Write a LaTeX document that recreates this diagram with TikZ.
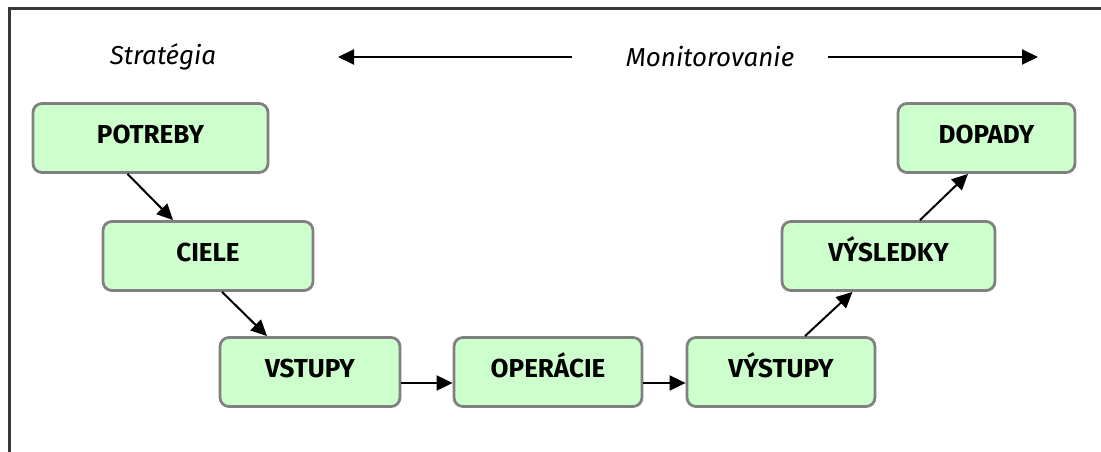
\documentclass[tikz,border=0pt]{standalone}
\usepackage{fontspec}
\setmainfont{Fira Sans}
\usetikzlibrary{arrows.meta}
\definecolor{boxfill}{HTML}{CCFFCC}
\definecolor{boxline}{HTML}{808080}
\definecolor{framecol}{HTML}{383838}
\tikzset{
  krok/.style={draw=boxline, fill=boxfill, line width=2.8pt, rounded corners=9pt,
    minimum height=69pt, text height=19pt, text depth=8pt,
    font=\fontsize{26}{30}\selectfont\bfseries},
  sipka/.style={-{Triangle[length=16pt,width=15pt]}, line width=2pt},
  popis/.style={font=\fontsize{26}{30}\selectfont\itshape}
}
\begin{document}
\begin{tikzpicture}[x=1pt, y=-1pt]
        \useasboundingbox (0,0) rectangle (1101,452);
        % ram
        \draw[framecol, line width=3pt] (9,452) -- (9,9) -- (1101,9);

        % horny riadok
        \node[popis] (strat) at (163,57) {Stratégia};
        \node[popis] (monit) at (710,57) {Monitorovanie};
        \coordinate (lz) at (572,57);
        \coordinate (lk) at (338,57);
        \coordinate (pz) at (828,57);
        \coordinate (pk) at (1038,57);
        \draw[sipka] (lz) -- (lk);
        \draw[sipka] (pz) -- (pk);

        % kroky
        \node[krok, minimum width=235pt] (potreby) at (150.5,138) {POTREBY};
        \node[krok, minimum width=210pt] (ciele) at (208,256) {CIELE};
        \node[krok, minimum width=180pt] (vstupy) at (310,372) {VSTUPY};
        \node[krok, minimum width=188pt] (operacie) at (548,372) {OPERÁCIE};
        \node[krok, minimum width=188pt] (vystupy) at (781,372) {VÝSTUPY};
        \node[krok, minimum width=213pt] (vysledky) at (888.5,256) {VÝSLEDKY};
        \node[krok, minimum width=177pt] (dopady) at (986.5,138) {DOPADY};

        % sipky medzi krokmi
        \draw[sipka] ([xshift=-23pt]potreby.south) -- ([xshift=-35pt]ciele.north);
        \draw[sipka] ([xshift=14pt]ciele.south) -- ([xshift=-43pt]vstupy.north);
        \draw[sipka] ([yshift=-11pt]vstupy.east) -- ([yshift=-11pt]operacie.west);
        \draw[sipka] ([yshift=-11pt]operacie.east) -- ([yshift=-11pt]vystupy.west);
        \draw[sipka] ([xshift=24pt]vystupy.north) -- ([xshift=-36pt]vysledky.south);
        \draw[sipka] ([xshift=31.5pt]vysledky.north) -- ([xshift=-18.5pt]dopady.south);
    \end{tikzpicture}
\end{document}
